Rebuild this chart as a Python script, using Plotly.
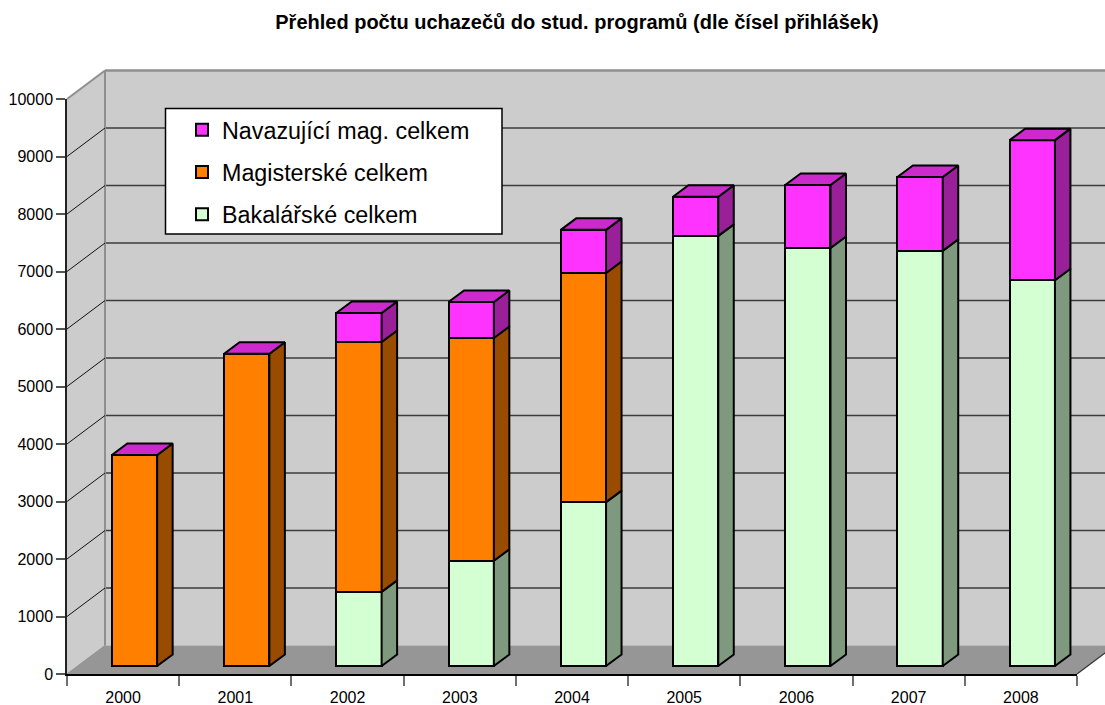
import plotly.graph_objects as go

years = [2000, 2001, 2002, 2003, 2004, 2005, 2006, 2007, 2008]
bakalarske = [0, 0, 1290, 1830, 2850, 7480, 7270, 7220, 6710]
magisterske = [3670, 5430, 4345, 3875, 3985, 0, 0, 0, 0]
navazujici = [0, 0, 505, 625, 750, 680, 1095, 1285, 2435]
y_ticks = list(range(0, 11000, 1000))
title = "Přehled počtu uchazečů do stud. programů (dle čísel přihlášek)"

W, H = 1105, 705
L, R, T, B = 67, 28, 99, 31
PW, PH = W - L - R, H - T - B
px_x = PW / 9            # pixels per category
px_y = PH / 10000        # pixels per unit
X0, X1 = years[0] - 0.5, years[-1] + 0.5
Y0, Y1 = 0, 10000

# chart-box depth and bar-plane offset, in axis units
WALL_DX, WALL_DY = 38 / px_x, 28.5 / px_y
SHIFT_X, SHIFT_Y = 11.4 / px_x, 8 / px_y
BAR_W = 45.3 / px_x
BAR_DX, BAR_DY = 15.5 / px_x, 11.5 / px_y

WALL = "#CCCCCC"
FLOOR = "#969696"
EDGE = "#8F8F8F"


def fx(x):
    return (x - X0) / (X1 - X0)


def fy(y):
    return (y - Y0) / (Y1 - Y0)


def poly(xs, ys, fill, line=None, width=0):
    return go.Scatter(x=xs, y=ys, mode="lines", fill="toself", fillcolor=fill,
                      line=dict(color=line or fill, width=width), showlegend=False,
                      hoverinfo="skip")


# the chart box runs past the axis ranges, so it is drawn in paper coordinates
def shape_poly(pts, fill):
    d = "M" + "L".join(f"{fx(x)},{fy(y)}" for x, y in pts) + "Z"
    return dict(type="path", path=d, xref="paper", yref="paper", layer="below",
                fillcolor=fill, line=dict(width=0))


def shape_line(p, q, color, width):
    return dict(type="line", xref="paper", yref="paper", layer="below",
                x0=fx(p[0]), y0=fy(p[1]), x1=fx(q[0]), y1=fy(q[1]),
                line=dict(color=color, width=width))


bx0, bx1 = X0 + WALL_DX, X1 + WALL_DX
by0, by1 = Y0 + WALL_DY, Y1 + WALL_DY

shapes = [
    shape_poly([(bx0, by0), (bx1, by0), (bx1, by1), (bx0, by1)], WALL),
    shape_poly([(X0, Y0), (bx0, by0), (bx0, by1), (X0, Y1)], WALL),
    shape_poly([(X0, Y0), (X1, Y0), (bx1, by0), (bx0, by0)], FLOOR),
]
for v in y_ticks[1:-1]:
    shapes.append(shape_line((bx0, v + WALL_DY), (bx1, v + WALL_DY), "#3C3C3C", 1.4))
shapes += [
    shape_line((X0, Y1), (bx0, by1), EDGE, 2),
    shape_line((bx0, by1), (bx1, by1), EDGE, 2.5),
    shape_line((bx0, by0), (bx0, by1), EDGE, 2),
    shape_line((X0, Y0), (bx0, by0), EDGE, 1),
    shape_line((X1, Y0), (bx1, by0), "#333333", 1.2),
]

fig = go.Figure()
# left-wall gridlines
gx, gy = [], []
for v in y_ticks[1:-1]:
    gx += [X0, bx0, None]
    gy += [v, v + WALL_DY, None]
fig.add_trace(go.Scatter(x=gx, y=gy, mode="lines", line=dict(color="#111111", width=1),
                         showlegend=False, hoverinfo="skip"))

# bars (front faces) on the shifted bar plane
series = [
    ("Bakalářské celkem", bakalarske, "#D3FFD3", "#7E997E", 3),
    ("Magisterské celkem", magisterske, "#FF8000", "#994C00", 2),
    ("Navazující mag. celkem", navazujici, "#FF33FF", "#992099", 1),
]
for name, vals, col, _, rank in series:
    fig.add_trace(go.Bar(x=years, y=vals, name=name, width=BAR_W, xaxis="x2", yaxis="y2",
                         legendgroup=name, legendrank=rank,
                         marker=dict(color=col, line=dict(color="black", width=2)),
                         hovertemplate="%{x}: %{y}<extra>" + name + "</extra>"))

# side faces
totals = [0] * len(years)
for name, vals, col, side, _ in series:
    xs, ys = [], []
    for i, yr in enumerate(years):
        lo, hi = totals[i], totals[i] + vals[i]
        totals[i] = hi
        if vals[i] == 0:
            continue
        xr = yr + BAR_W / 2
        xs += [xr, xr + BAR_DX, xr + BAR_DX, xr, xr, None]
        ys += [lo, lo + BAR_DY, hi + BAR_DY, hi, lo, None]
    t = poly(xs, ys, side, "black", 2)
    t.update(xaxis="x2", yaxis="y2")
    fig.add_trace(t)

# top faces take the colour of the top series
xs, ys = [], []
for yr, tot in zip(years, totals):
    xl, xr = yr - BAR_W / 2, yr + BAR_W / 2
    xs += [xl, xr, xr + BAR_DX, xl + BAR_DX, xl, None]
    ys += [tot, tot, tot + BAR_DY, tot + BAR_DY, tot, None]
t = poly(xs, ys, "#CC2ACC", "black", 2)
t.update(xaxis="x2", yaxis="y2")
fig.add_trace(t)

shapes.append(dict(type="rect", xref="paper", yref="paper", layer="above",
                   x0=(165.5 - L) / PW, x1=(502 - L) / PW,
                   y0=1 - (234 - T) / PH, y1=1 - (108.5 - T) / PH,
                   fillcolor="white", line=dict(color="black", width=1.5)))

FONT = "Liberation Sans, Arial, sans-serif"
fig.update_layout(
    width=W, height=H, autosize=False,
    margin=dict(l=L, r=R, t=T, b=B, pad=0),
    paper_bgcolor="white", plot_bgcolor="rgba(0,0,0,0)",
    barmode="stack",
    font=dict(family=FONT, color="black", size=16),
    title=dict(text=title, font=dict(size=20, family=FONT, weight="bold", color="black"),
               x=(577 - L) / PW, xanchor="center", y=1 - 22 / H, yanchor="middle",
               xref="paper"),
    xaxis=dict(range=[X0, X1], tickmode="array", tickvals=years, ticktext=[str(y) for y in years],
               ticks="outside", ticklen=8, tickcolor="rgba(0,0,0,0)", showgrid=False, zeroline=False,
               showline=True, linecolor="black", linewidth=2, automargin=False,
               minor=dict(tickmode="array", tickvals=[y - 0.5 for y in years] + [X1],
                          ticks="outside", ticklen=10, tickcolor="#707070", tickwidth=1.5, showgrid=False),
               tickfont=dict(size=16)),
    yaxis=dict(range=[Y0, Y1], tickmode="array", tickvals=y_ticks, ticktext=[str(v) for v in y_ticks],
               ticks="outside", ticklen=9, automargin=False,
               tickcolor="#555555", tickwidth=2, showgrid=False, zeroline=False,
               showline=True, linecolor="#222222", linewidth=1.5, tickfont=dict(size=16)),
    xaxis2=dict(range=[X0 - SHIFT_X, X1 - SHIFT_X], overlaying="x", visible=False),
    yaxis2=dict(range=[Y0 - SHIFT_Y, Y1 - SHIFT_Y], overlaying="y", visible=False),
    legend=dict(x=(182 - L) / PW, xanchor="left",
                y=1 - (108 - T) / PH, yanchor="top",
                traceorder="grouped", tracegroupgap=9,
                bgcolor="rgba(0,0,0,0)", font=dict(size=23.3, family=FONT)),
    shapes=shapes,
    showlegend=True,
)
fig.write_html("out.html", post_script="document.body.style.margin='0';",
               config=dict(displayModeBar=False))
